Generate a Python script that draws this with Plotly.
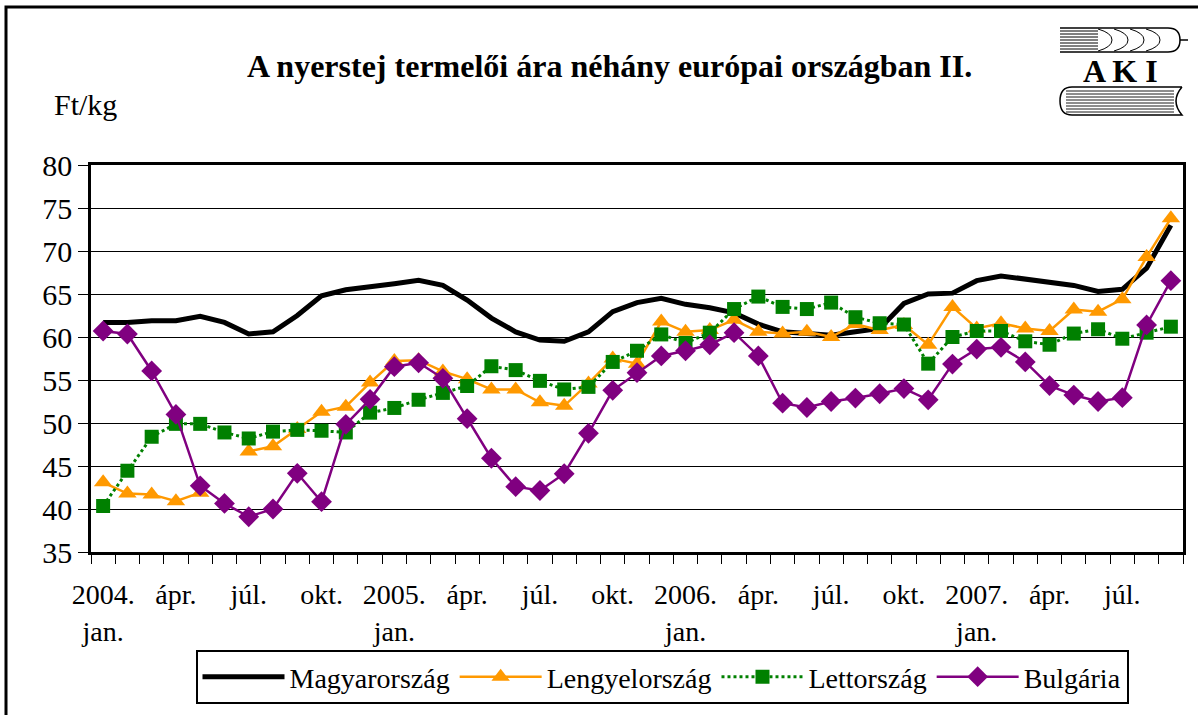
import plotly.graph_objects as go

# ---------------- data ----------------
tick_labels = ["2004.<br>jan.", "ápr.", "júl.", "okt.",
               "2005.<br>jan.", "ápr.", "júl.", "okt.",
               "2006.<br>jan.", "ápr.", "júl.", "okt.",
               "2007.<br>jan.", "ápr.", "júl."]

magyarorszag = [61.7, 61.7, 61.9, 61.9, 62.4, 61.7, 60.35, 60.6, 62.5, 64.8,
                65.5, 65.8, 66.2, 66.6, 66.0, 64.3, 62.2, 60.6, 59.65, 59.5,
                60.6, 62.95, 64.0, 64.5, 63.8, 63.4, 62.8, 61.5, 60.6, 60.4,
                60.2, 60.6, 61.0, 63.9, 65.0, 65.1, 66.55, 67.1, 66.7, 66.4,
                66.0, 65.3, 65.55, 68.0, 73.0]

lengyelorszag = [43.1, 41.8, 41.7, 40.9, 41.9, None, 46.7, 47.3, 49.3, 51.3,
                 51.9, 54.7, 57.2, 57.3, 56.0, 55.1, 53.9, 53.9, 52.4, 52.0,
                 54.6, 57.5, 56.9, 61.8, 60.6, 60.8, 62.0, 60.6, 60.4, 60.6,
                 60.0, 61.5, 60.8, 61.4, 59.1, 63.5, 61.0, 61.6, 61.0, 60.7,
                 63.2, 62.95, 64.4, 69.3, 73.8]

lettorszag = [40.35, 44.45, 48.4, 49.9, 49.9, 48.9, 48.2, 49.0, 49.2, 49.1,
              48.9, 51.2, 51.75, 52.7, 53.5, 54.3, 56.6, 56.15, 54.9, 53.9,
              54.2, 57.1, 58.4, 60.3, 59.3, 60.5, 63.25, 64.7, 63.5, 63.25,
              64.0, 62.3, 61.6, 61.45, 56.9, 60.0, 60.7, 60.7, 59.5, 59.1,
              60.4, 60.9, 59.8, 60.5, 61.2]

bulgaria = [60.7, 60.35, 56.05, 51.0, 42.7, 40.65, 39.1, 40.0, 44.15, 40.85,
            49.85, 52.75, 56.55, 57.0, 55.2, 50.5, 45.9, 42.6, 42.15, 44.1,
            48.8, 53.8, 55.85, 57.8, 58.4, 59.1, 60.5, 57.8, 52.3, 51.8,
            52.5, 52.9, 53.4, 54.0, 52.7, 56.85, 58.6, 58.8, 57.1, 54.35,
            53.25, 52.5, 52.95, 61.4, 66.55]

months = list(range(len(magyarorszag)))
tick_positions = months[::3]

FONT = "Liberation Serif, Times New Roman, serif"

# ---------------- layout geometry (pixels) ----------------
W_IMG, H_IMG = 1198, 715
L, R, T, B = 91, 1183, 165, 552
PW, PH = R - L, B - T


def px(x):
    return (x - L) / PW


def py(y):
    return (B - y) / PH


fig = go.Figure()

fig.add_trace(go.Scatter(
    x=months, y=magyarorszag, name="Magyarország", mode="lines",
    line=dict(color="black", width=5)))

fig.add_trace(go.Scatter(
    x=months, y=lengyelorszag, name="Lengyelország", mode="lines+markers",
    line=dict(color="#FF9900", width=2.5),
    marker=dict(symbol="triangle-up", size=16, color="#FF9900"),
    connectgaps=False))

fig.add_trace(go.Scatter(
    x=months, y=lettorszag, name="Lettország", mode="lines+markers",
    line=dict(color="#008000", width=3, dash="dot"),
    marker=dict(symbol="square", size=14, color="#008000")))

fig.add_trace(go.Scatter(
    x=months, y=bulgaria, name="Bulgária", mode="lines+markers",
    line=dict(color="#800080", width=2.5),
    marker=dict(symbol="diamond", size=16, color="#800080")))

shapes = []
# outer frame
shapes.append(dict(type="rect", xref="paper", yref="paper",
                   x0=px(6), x1=px(1215), y0=py(730), y1=py(7),
                   line=dict(color="black", width=3), layer="below"))

# ---- AKI logo ----
def seg(x0, y0, x1, y1, w=1.2):
    shapes.append(dict(type="line", xref="paper", yref="paper",
                       x0=px(x0), y0=py(y0), x1=px(x1), y1=py(y1),
                       line=dict(color="black", width=w)))

# ear outline
seg(1060, 28, 1168, 28, 1.5)
seg(1060, 52, 1168, 52, 1.5)
shapes.append(dict(type="path", xref="paper", yref="paper",
                   path=f"M {px(1168)},{py(28)} Q {px(1180)},{py(28)} {px(1180)},{py(40)} "
                        f"Q {px(1180)},{py(52)} {px(1168)},{py(52)}",
                   line=dict(color="black", width=1.5)))
seg(1180, 40, 1188, 40, 1.5)
for yy in [31, 34, 37, 40, 43, 46, 49]:
    seg(1060, yy, 1098, yy, 1.0)
for cx in [1098, 1114, 1130, 1146]:
    shapes.append(dict(type="path", xref="paper", yref="paper",
                       path=f"M {px(cx)},{py(29)} Q {px(cx + 14)},{py(33)} {px(cx + 14)},{py(40)} "
                            f"Q {px(cx + 14)},{py(47)} {px(cx)},{py(51)}",
                       line=dict(color="black", width=1.0)))
# book
shapes.append(dict(type="path", xref="paper", yref="paper",
                   path=f"M {px(1182)},{py(87)} L {px(1072)},{py(87)} "
                        f"Q {px(1060)},{py(87)} {px(1060)},{py(101)} "
                        f"Q {px(1060)},{py(115)} {px(1072)},{py(115)} "
                        f"L {px(1182)},{py(115)} "
                        f"Q {px(1170)},{py(101)} {px(1182)},{py(87)}",
                   line=dict(color="black", width=1.5)))
for yy in [91, 94, 97, 100, 103, 106, 109, 112]:
    seg(1066, yy, 1174, yy, 0.9)

annotations = [
    dict(text="<b>A nyerstej termelői ára néhány európai országban II.</b>",
         xref="paper", yref="paper", x=px(609), y=py(66),
         xanchor="center", yanchor="middle", showarrow=False,
         font=dict(family=FONT, size=32, color="black")),
    dict(text="Ft/kg", xref="paper", yref="paper", x=px(52), y=py(105),
         xanchor="left", yanchor="middle", showarrow=False,
         font=dict(family=FONT, size=30, color="black")),
    dict(text="<b>A K I</b>", xref="paper", yref="paper", x=px(1120), y=py(71),
         xanchor="center", yanchor="middle", showarrow=False,
         font=dict(family=FONT, size=32, color="black")),
]

fig.update_layout(
    width=W_IMG, height=H_IMG,
    margin=dict(l=L, r=W_IMG - R, t=T, b=H_IMG - B, autoexpand=False),
    paper_bgcolor="white", plot_bgcolor="white",
    font=dict(family=FONT, size=28, color="black"),
    showlegend=True,
    legend=dict(orientation="h", x=px(662), y=py(650), xanchor="center", yanchor="top",
                bordercolor="black", borderwidth=2, bgcolor="white",
                font=dict(family=FONT, size=28, color="black"),
                itemwidth=82, tracegroupgap=0),
    shapes=shapes, annotations=annotations,
    xaxis=dict(range=[-0.5, len(months) - 0.5], tickmode="array",
               tickvals=tick_positions, ticktext=tick_labels, ticks="",
               ticklabelstandoff=16,
               showgrid=False, zeroline=False, showline=True, mirror=True,
               linecolor="black", linewidth=2.5,
               tickfont=dict(family=FONT, size=28, color="black"),
               minor=dict(ticks="outside", ticklen=9, tickwidth=1, tickcolor="black",
                          tick0=-0.5, dtick=1, showgrid=False)),
    yaxis=dict(range=[35, 80], dtick=5, tick0=35, ticks="outside", ticklen=10,
               tickwidth=1, tickcolor="black",
               showgrid=True, gridcolor="black", gridwidth=1, zeroline=False,
               showline=True, mirror=True, linecolor="black", linewidth=2.5,
               tickfont=dict(family=FONT, size=30, color="black")),
)

fig.write_html("out.html", config={"displayModeBar": False},
               post_script="document.body.style.margin='0px';document.body.style.overflow='hidden';")
